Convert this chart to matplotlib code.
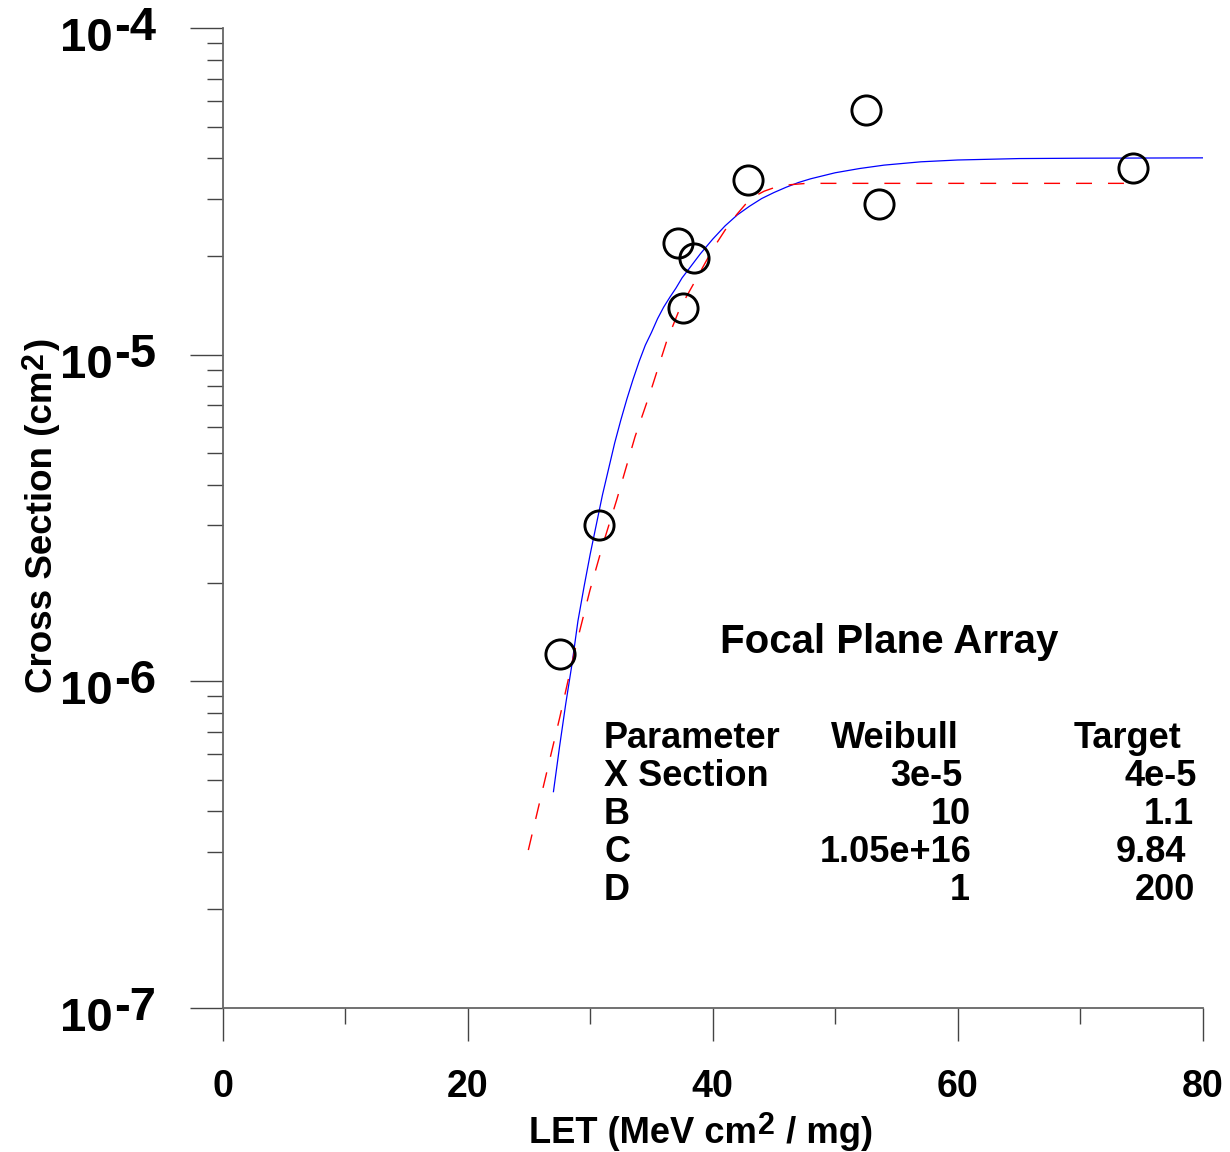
import numpy as np
import matplotlib
matplotlib.use("Agg")
import matplotlib.pyplot as plt
from matplotlib.ticker import LogLocator, FixedLocator, NullFormatter

plt.rcParams['font.family'] = ['Liberation Sans', 'DejaVu Sans']
plt.rcParams['font.weight'] = 'bold'

W, H = 1230, 1152

# measured cross sections (open circles)
let_meas = [27.5, 30.7, 37.2, 38.5, 37.6, 42.9, 52.5, 53.6, 74.3]
xs_meas = [1.21e-6, 3.01e-6, 2.20e-5, 1.98e-5, 1.39e-5, 3.43e-5, 5.62e-5, 2.90e-5, 3.74e-5]

# Weibull fit curve (blue)
let_fit = [27.0, 27.5, 28.0, 28.5, 29.0, 29.5, 30.0, 30.5, 31.0, 31.5, 32.0, 32.5,
           33.0, 33.5, 34.0, 34.5, 35.0, 35.5, 36.0, 36.5, 37.0, 37.5, 38.0, 39.0,
           40.0, 41.0, 42.0, 43.0, 44.0, 45.0, 46.0, 47.0, 48.0, 50.0, 52.0, 54.0,
           57.0, 60.0, 65.0, 70.0, 80.0]
xs_fit = [4.59e-7, 6.31e-7, 8.51e-7, 1.12e-6, 1.53e-6, 1.95e-6, 2.45e-6, 3.02e-6,
          3.72e-6, 4.47e-6, 5.37e-6, 6.31e-6, 7.33e-6, 8.41e-6, 9.55e-6, 1.07e-5,
          1.17e-5, 1.29e-5, 1.40e-5, 1.50e-5, 1.60e-5, 1.72e-5, 1.82e-5, 2.04e-5,
          2.26e-5, 2.48e-5, 2.68e-5, 2.85e-5, 3.01e-5, 3.14e-5, 3.26e-5, 3.37e-5,
          3.46e-5, 3.61e-5, 3.72e-5, 3.81e-5, 3.90e-5, 3.95e-5, 3.99e-5, 4.00e-5, 4.01e-5]

# target curve (red dashed)
let_tgt = [24.95, 26.17, 27.53, 28.76, 29.98, 31.07, 32.16, 33.66, 34.88, 36.24,
           37.33, 38.56, 40.05, 41.14, 42.0, 42.78, 43.5, 44.2, 45.22, 46.4, 47.67, 74.5]
xs_tgt = [3.04e-7, 4.75e-7, 7.79e-7, 1.25e-6, 1.90e-6, 2.65e-6, 3.59e-6, 5.61e-6,
          7.62e-6, 1.10e-5, 1.39e-5, 1.68e-5, 2.12e-5, 2.45e-5, 2.70e-5, 2.92e-5,
          3.07e-5, 3.17e-5, 3.27e-5, 3.32e-5, 3.35e-5, 3.35e-5]

# parameter table
param_names = ["Parameter", "X Section", "B", "C", "D"]
weibull_vals = ["Weibull", "3e-5", "10", "1.05e+16", "1"]
target_vals = ["Target", "4e-5", "1.1", "9.84", "200"]

y_major = [1e-4, 1e-5, 1e-6, 1e-7]
y_exps = ["-4", "-5", "-6", "-7"]


def fx(x):
    return x / W


def fy(y):
    return 1 - y / H


fig = plt.figure(figsize=(W / 100, H / 100), dpi=100)
ax = fig.add_axes([fx(222.7), fy(1007.7), (1202.7 - 222.7) / W, (1007.7 - 28.3) / H])

ax.plot(let_fit, xs_fit, color='#0000ff', lw=0.9)
ax.plot(let_tgt, xs_tgt, color='#ff0000', lw=1.0, dashes=(11.5, 11.5))
ax.plot(let_meas, xs_meas, 'o', ms=21, mfc='none', mec='black', mew=2.1, ls='none')

ax.set_yscale('log')
ax.set_xlim(0, 80)
ax.set_ylim(1e-7, 1e-4)

for s in ['top', 'right']:
    ax.spines[s].set_visible(False)
for s in ['left', 'bottom']:
    ax.spines[s].set_color('#666666')
    ax.spines[s].set_linewidth(1.3)

ax.xaxis.set_major_locator(FixedLocator([0, 20, 40, 60, 80]))
ax.xaxis.set_minor_locator(FixedLocator([10, 30, 50, 70]))
ax.yaxis.set_major_locator(FixedLocator(y_major))
ax.yaxis.set_minor_locator(LogLocator(base=10, subs=np.arange(2, 10)))
ax.yaxis.set_minor_formatter(NullFormatter())

ax.tick_params(which='major', direction='out', length=23.8, width=1.0, color='#444444')
ax.tick_params(which='minor', direction='out', length=11.2, width=1.0, color='#444444')
ax.tick_params(axis='x', labelsize=27, pad=20)
ax.tick_params(axis='y', labelleft=False)
for lab in ax.get_xticklabels():
    lab.set_fontweight('bold')

# y tick labels drawn as 10 with a full size raised exponent
for val, ex in zip(y_major, y_exps):
    ax.annotate("10", xy=(0, val), xycoords=('axes fraction', 'data'),
                xytext=(-162.7, -23), textcoords='offset pixels',
                ha='left', va='baseline', fontsize=34, fontweight='bold',
                annotation_clip=False)
    ax.annotate(ex, xy=(0, val), xycoords=('axes fraction', 'data'),
                xytext=(-108.5, -12), textcoords='offset pixels',
                ha='left', va='baseline', fontsize=34, fontweight='bold',
                annotation_clip=False)


def pieces_label(pieces, cx, cy, rotation=0):
    # pieces: (text, size, raise in px); centred at cx along the baseline cy
    renderer = fig.canvas.get_renderer()
    texts = [fig.text(0, 0, s, fontsize=sz, fontweight='bold', ha='left',
                      va='baseline', rotation=rotation, rotation_mode='anchor')
             for s, sz, _ in pieces]
    lens = []
    for t in texts:
        bb = t.get_window_extent(renderer)
        lens.append(bb.height if rotation else bb.width)
    total = sum(lens)
    pos = -total / 2
    for t, (s, sz, up), ln in zip(texts, pieces, lens):
        if rotation:
            t.set_position(((cx - up) / W, (H - cy + pos) / H))
        else:
            t.set_position(((cx + pos) / W, (H - cy + up) / H))
        pos += ln + 1


pieces_label([("LET (MeV cm", 26.2, 0), ("2", 22, 9.5), (" / mg)", 26.2, 0)], 700, 1143)
pieces_label([("Cross Section (cm", 26.5, 0), ("2", 22, 9.5), (")", 26.5, 0)], 52, 517, rotation=90)

fig.text(fx(889), fy(653), "Focal Plane Array", fontsize=29, fontweight='bold',
         ha='center', va='baseline')

row_y = [748, 786, 824, 862, 900]
weibull_right = [959, 962, 971, 972, 970]
target_right = [1182, 1197, 1193.5, 1186, 1195]
for i, (p, wv, tv) in enumerate(zip(param_names, weibull_vals, target_vals)):
    fig.text(fx(604), fy(row_y[i]), p, fontsize=26, fontweight='bold', ha='left', va='baseline')
    fig.text(fx(weibull_right[i]), fy(row_y[i]), wv, fontsize=26, fontweight='bold', ha='right', va='baseline')
    fig.text(fx(target_right[i]), fy(row_y[i]), tv, fontsize=26, fontweight='bold', ha='right', va='baseline')

fig.savefig("out.png", dpi=100)
